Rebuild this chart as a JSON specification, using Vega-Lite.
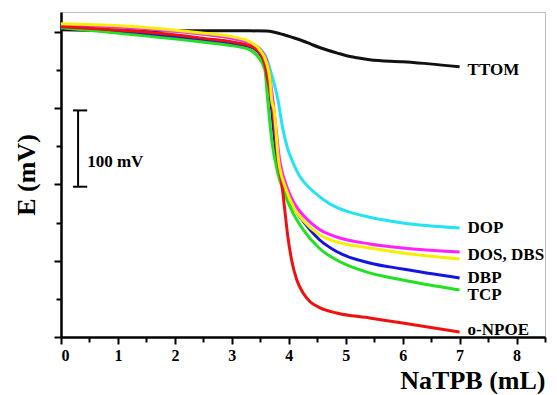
{
  "$schema": "https://vega.github.io/schema/vega-lite/v6.json",
  "width": 484,
  "height": 325,
  "autosize": {"type": "none"},
  "padding": {"left": 61, "top": 12, "right": 12, "bottom": 58},
  "background": "white",
  "config": {
    "view": {"stroke": "#bbbbbb", "strokeWidth": 1},
    "axis": {
      "grid": false,
      "domainColor": "black",
      "domainWidth": 2.5,
      "tickColor": "black",
      "tickWidth": 2,
      "labelFont": "Liberation Serif",
      "labelFontWeight": "bold",
      "labelFontSize": 16,
      "labelColor": "black",
      "titleFont": "Liberation Serif",
      "titleFontWeight": "bold",
      "titleColor": "black",
      "titleFontSize": 26
    }
  },
  "datasets": {
    "curves": [
      {"series": "TTOM", "x": 0, "y": 402.6}, {"series": "TTOM", "x": 1.56, "y": 401.3}, {"series": "TTOM", "x": 2.44, "y": 401.3}, {"series": "TTOM", "x": 3.32, "y": 401.3}, {"series": "TTOM", "x": 3.6, "y": 401}, {"series": "TTOM", "x": 3.75, "y": 399.5}, {"series": "TTOM", "x": 3.9, "y": 396.5}, {"series": "TTOM", "x": 4.05, "y": 393}, {"series": "TTOM", "x": 4.25, "y": 388}, {"series": "TTOM", "x": 4.4, "y": 383.5}, {"series": "TTOM", "x": 4.54, "y": 379.5}, {"series": "TTOM", "x": 4.7, "y": 375.5}, {"series": "TTOM", "x": 4.84, "y": 372.5}, {"series": "TTOM", "x": 5.0, "y": 369}, {"series": "TTOM", "x": 5.2, "y": 366}, {"series": "TTOM", "x": 5.42, "y": 363.5}, {"series": "TTOM", "x": 6.0, "y": 360.7}, {"series": "TTOM", "x": 6.47, "y": 358}, {"series": "TTOM", "x": 7.0, "y": 354.1},
      {"series": "DOP", "x": 0, "y": 409.2}, {"series": "DOP", "x": 2.44, "y": 397.4}, {"series": "DOP", "x": 3.32, "y": 385.6}, {"series": "DOP", "x": 3.58, "y": 369.8}, {"series": "DOP", "x": 3.70, "y": 343.6}, {"series": "DOP", "x": 3.81, "y": 310.8}, {"series": "DOP", "x": 3.89, "y": 275}, {"series": "DOP", "x": 3.98, "y": 247}, {"series": "DOP", "x": 4.05, "y": 233}, {"series": "DOP", "x": 4.12, "y": 221}, {"series": "DOP", "x": 4.19, "y": 211}, {"series": "DOP", "x": 4.28, "y": 202}, {"series": "DOP", "x": 4.37, "y": 195}, {"series": "DOP", "x": 4.54, "y": 184}, {"series": "DOP", "x": 4.7, "y": 175.5}, {"series": "DOP", "x": 4.84, "y": 170}, {"series": "DOP", "x": 5.1, "y": 163}, {"series": "DOP", "x": 5.42, "y": 157}, {"series": "DOP", "x": 6.0, "y": 149.5}, {"series": "DOP", "x": 7.0, "y": 143},
      {"series": "DOS", "x": 0, "y": 409.2}, {"series": "DOS", "x": 2.44, "y": 397.4}, {"series": "DOS", "x": 3.32, "y": 385.6}, {"series": "DOS", "x": 3.53, "y": 373.8}, {"series": "DOS", "x": 3.63, "y": 356.7}, {"series": "DOS", "x": 3.72, "y": 310.8}, {"series": "DOS", "x": 3.84, "y": 232.1}, {"series": "DOS", "x": 3.98, "y": 194}, {"series": "DOS", "x": 4.1, "y": 175}, {"series": "DOS", "x": 4.25, "y": 160}, {"series": "DOS", "x": 4.4, "y": 149}, {"series": "DOS", "x": 4.54, "y": 141}, {"series": "DOS", "x": 4.84, "y": 131.1}, {"series": "DOS", "x": 5.42, "y": 122}, {"series": "DOS", "x": 6.0, "y": 116.7}, {"series": "DOS", "x": 7.0, "y": 111.5},
      {"series": "DBP", "x": 0, "y": 405.2}, {"series": "DBP", "x": 2.44, "y": 389.5}, {"series": "DBP", "x": 3.32, "y": 380.3}, {"series": "DBP", "x": 3.53, "y": 367.2}, {"series": "DBP", "x": 3.63, "y": 343.6}, {"series": "DBP", "x": 3.70, "y": 297.7}, {"series": "DBP", "x": 3.79, "y": 232.1}, {"series": "DBP", "x": 3.93, "y": 194}, {"series": "DBP", "x": 4.06, "y": 173}, {"series": "DBP", "x": 4.19, "y": 158}, {"series": "DBP", "x": 4.37, "y": 141}, {"series": "DBP", "x": 4.54, "y": 127.5}, {"series": "DBP", "x": 4.84, "y": 112}, {"series": "DBP", "x": 5.42, "y": 97}, {"series": "DBP", "x": 6.0, "y": 89.2}, {"series": "DBP", "x": 7.0, "y": 77.4},
      {"series": "TCP", "x": 0, "y": 405.2}, {"series": "TCP", "x": 2.44, "y": 386.9}, {"series": "TCP", "x": 3.02, "y": 381.6}, {"series": "TCP", "x": 3.32, "y": 376.4}, {"series": "TCP", "x": 3.46, "y": 367.2}, {"series": "TCP", "x": 3.58, "y": 350.2}, {"series": "TCP", "x": 3.63, "y": 310.8}, {"series": "TCP", "x": 3.70, "y": 258.4}, {"series": "TCP", "x": 3.81, "y": 214}, {"series": "TCP", "x": 3.93, "y": 187}, {"series": "TCP", "x": 4.05, "y": 166}, {"series": "TCP", "x": 4.25, "y": 141}, {"series": "TCP", "x": 4.54, "y": 116}, {"series": "TCP", "x": 4.84, "y": 101}, {"series": "TCP", "x": 5.42, "y": 84}, {"series": "TCP", "x": 6.0, "y": 74.8}, {"series": "TCP", "x": 7.0, "y": 61.6},
      {"series": "o-NPOE", "x": 0, "y": 406.6}, {"series": "o-NPOE", "x": 2.44, "y": 392.1}, {"series": "o-NPOE", "x": 3.32, "y": 381.6}, {"series": "o-NPOE", "x": 3.49, "y": 372.5}, {"series": "o-NPOE", "x": 3.58, "y": 356.7}, {"series": "o-NPOE", "x": 3.63, "y": 337}, {"series": "o-NPOE", "x": 3.72, "y": 297.7}, {"series": "o-NPOE", "x": 3.81, "y": 232.1}, {"series": "o-NPOE", "x": 3.88, "y": 199.3}, {"series": "o-NPOE", "x": 3.93, "y": 166.6}, {"series": "o-NPOE", "x": 3.98, "y": 133.8}, {"series": "o-NPOE", "x": 4.05, "y": 101}, {"series": "o-NPOE", "x": 4.14, "y": 75}, {"series": "o-NPOE", "x": 4.25, "y": 58}, {"series": "o-NPOE", "x": 4.37, "y": 46.5}, {"series": "o-NPOE", "x": 4.54, "y": 38.5}, {"series": "o-NPOE", "x": 4.84, "y": 31.5}, {"series": "o-NPOE", "x": 5.42, "y": 24.9}, {"series": "o-NPOE", "x": 6.0, "y": 18.4}, {"series": "o-NPOE", "x": 7.0, "y": 6.6},
      {"series": "DBS", "x": 0, "y": 410.5}, {"series": "DBS", "x": 1.04, "y": 407.9}, {"series": "DBS", "x": 2.44, "y": 398.7}, {"series": "DBS", "x": 3.02, "y": 393.4}, {"series": "DBS", "x": 3.32, "y": 386.9}, {"series": "DBS", "x": 3.49, "y": 376.4}, {"series": "DBS", "x": 3.61, "y": 359.3}, {"series": "DBS", "x": 3.67, "y": 337}, {"series": "DBS", "x": 3.70, "y": 310.8}, {"series": "DBS", "x": 3.74, "y": 297.7}, {"series": "DBS", "x": 3.82, "y": 232.1}, {"series": "DBS", "x": 3.95, "y": 194}, {"series": "DBS", "x": 4.1, "y": 168}, {"series": "DBS", "x": 4.25, "y": 153}, {"series": "DBS", "x": 4.54, "y": 134}, {"series": "DBS", "x": 4.84, "y": 124.6}, {"series": "DBS", "x": 5.42, "y": 116.7}, {"series": "DBS", "x": 6.0, "y": 110.2}, {"series": "DBS", "x": 7.0, "y": 102.3}
    ],
    "labels": [
      {"label": "TTOM", "x": 7.0, "y": 350},
      {"label": "DOP", "x": 7.0, "y": 143},
      {"label": "DOS, DBS", "x": 7.0, "y": 108},
      {"label": "DBP", "x": 7.0, "y": 77},
      {"label": "TCP", "x": 7.0, "y": 55},
      {"label": "o-NPOE", "x": 7.0, "y": 9}
    ],
    "bar": [{"x": 0.30, "lo": 197, "hi": 297, "xa": 0.21, "xb": 0.46, "text": "100 mV", "ym": 229}]
  },
  "layer": [
    {
      "data": {"name": "curves"},
      "mark": {"type": "line", "interpolate": "monotone", "strokeWidth": 3},
      "encoding": {
        "x": {"field": "x", "type": "quantitative", "scale": {"domain": [0, 8.5], "nice": false, "zero": false},
          "axis": {"values": [0, 1, 2, 3, 4, 5, 6, 7, 8], "tickSize": 7, "labelPadding": 3, "title": "NaTPB (mL)", "titleAnchor": "end", "titlePadding": 4, "orient": "bottom"}},
        "y": {"field": "y", "type": "quantitative", "scale": {"domain": [0, 426], "nice": false, "zero": false},
          "axis": {"values": [0, 100, 200, 300, 400], "tickSize": 7, "labels": false, "title": "E (mV)", "titlePadding": 14, "orient": "left"}},
        "color": {"field": "series", "type": "nominal", "legend": null,
          "scale": {"domain": ["TTOM", "DOP", "DOS", "DBP", "TCP", "o-NPOE", "DBS"],
                    "range": ["#111111", "#22e4f2", "#ff22ff", "#1515e0", "#22e022", "#f01010", "#f5f000"]}}
      }
    },
    {
      "data": {"name": "labels"},
      "mark": {"type": "text", "align": "left", "baseline": "middle", "dx": 8, "font": "Liberation Serif", "fontWeight": "bold", "fontSize": 17, "color": "black"},
      "encoding": {
        "x": {"field": "x", "type": "quantitative", "axis": null},
        "y": {"field": "y", "type": "quantitative", "axis": null},
        "text": {"field": "label"}
      }
    },
    {
      "data": {"name": "bar"},
      "mark": {"type": "rule", "strokeWidth": 2, "color": "black"},
      "encoding": {
        "x": {"field": "x", "type": "quantitative",
          "axis": {"values": [0.5, 1.5, 2.5, 3.5, 4.5, 5.5, 6.5, 7.5, 8.5], "tickSize": 5, "labels": false, "domain": false, "title": null, "orient": "bottom", "offset": 0, "tickColor": "black"}},
        "y": {"field": "lo", "type": "quantitative",
          "axis": {"values": [50, 150, 250, 350], "tickSize": 5, "labels": false, "domain": false, "title": null, "orient": "left", "offset": 0, "tickColor": "black"}},
        "y2": {"field": "hi"}
      }
    },
    {
      "data": {"name": "bar"},
      "mark": {"type": "rule", "strokeWidth": 2, "color": "black"},
      "encoding": {"x": {"field": "xa", "type": "quantitative", "axis": null}, "x2": {"field": "xb"}, "y": {"field": "lo", "type": "quantitative", "axis": null}}
    },
    {
      "data": {"name": "bar"},
      "mark": {"type": "rule", "strokeWidth": 2, "color": "black"},
      "encoding": {"x": {"field": "xa", "type": "quantitative", "axis": null}, "x2": {"field": "xb"}, "y": {"field": "hi", "type": "quantitative", "axis": null}}
    },
    {
      "data": {"name": "bar"},
      "mark": {"type": "text", "align": "left", "baseline": "middle", "font": "Liberation Serif", "fontWeight": "bold", "fontSize": 17, "color": "black"},
      "encoding": {"x": {"field": "xb", "type": "quantitative", "axis": null}, "y": {"field": "ym", "type": "quantitative", "axis": null}, "text": {"field": "text"}}
    }
  ],
  "resolve": {"axis": {"x": "independent", "y": "independent"}}
}
